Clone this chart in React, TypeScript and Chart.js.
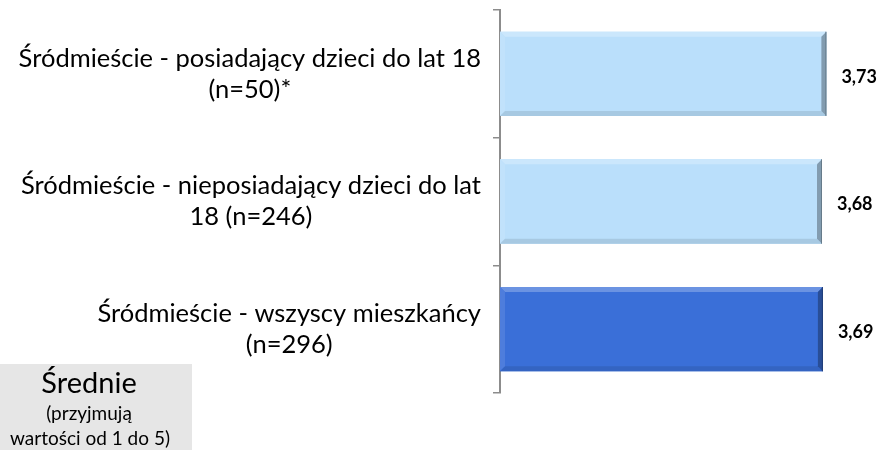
import React, { useEffect, useRef } from "react";
import { Chart, registerables } from "chart.js";

Chart.register(...registerables);

const categories: string[][] = [
  ["Śródmieście - posiadający dzieci do lat 18", "(n=50)*"],
  ["Śródmieście - nieposiadający dzieci do lat", "18 (n=246)"],
  ["Śródmieście - wszyscy mieszkańcy", "(n=296)"],
];
const values: number[] = [3.73, 3.68, 3.69];
const valueLabels: string[] = ["3,73", "3,68", "3,69"];
const barColors: string[] = ["#badffb", "#badffb", "#3a6fd8"];
const noteLines: string[] = ["Średnie", "(przyjmują", "wartości od 1 do 5)"];

const FONT = "Lato, 'Open Sans', sans-serif";

function shade(hex: string, amt: number): string {
  const n = parseInt(hex.slice(1), 16);
  let r = (n >> 16) & 255, g = (n >> 8) & 255, b = n & 255;
  const f = (c: number) => {
    const v = amt >= 0 ? c + (255 - c) * amt : c * (1 + amt);
    return Math.max(0, Math.min(255, Math.round(v)));
  };
  r = f(r); g = f(g); b = f(b);
  return `rgb(${r},${g},${b})`;
}

const decorPlugin = {
  id: "decor",
  beforeDraw(chart: any) {
    const ctx = chart.ctx;
    ctx.save();
    // note box
    ctx.fillStyle = "#e6e6e6";
    ctx.fillRect(0, 364, 192, 86);
    ctx.fillStyle = "#000";
    ctx.textAlign = "center";
    ctx.textBaseline = "alphabetic";
    ctx.font = `29px ${FONT}`;
    ctx.fillText(noteLines[0], 89, 393);
    ctx.font = `19px ${FONT}`;
    ctx.fillText(noteLines[1], 89, 420);
    ctx.fillText(noteLines[2], 90, 445);
    ctx.restore();
  },
  afterDatasetsDraw(chart: any) {
    const ctx = chart.ctx;
    const meta = chart.getDatasetMeta(0);
    const yScale = chart.scales.y;
    ctx.save();
    meta.data.forEach((bar: any, i: number) => {
      const { x, y, base, height } = bar.getProps(["x", "y", "base", "height"], true);
      const top = y - height / 2;
      const bot = y + height / 2;
      const left = base;
      const right = x;
      const bw = 5;
      const col = barColors[i];
      // top highlight
      ctx.fillStyle = shade(col, 0.25);
      ctx.beginPath();
      ctx.moveTo(left, top);
      ctx.lineTo(right, top);
      ctx.lineTo(right - bw, top + bw);
      ctx.lineTo(left + bw, top + bw);
      ctx.closePath();
      ctx.fill();
      // left lighter
      ctx.fillStyle = shade(col, 0.1);
      ctx.beginPath();
      ctx.moveTo(left, top);
      ctx.lineTo(left + bw, top + bw);
      ctx.lineTo(left + bw, bot - bw);
      ctx.lineTo(left, bot);
      ctx.closePath();
      ctx.fill();
      // bottom darker
      ctx.fillStyle = shade(col, -0.1);
      ctx.beginPath();
      ctx.moveTo(left, bot);
      ctx.lineTo(left + bw, bot - bw);
      ctx.lineTo(right - bw, bot - bw);
      ctx.lineTo(right, bot);
      ctx.closePath();
      ctx.fill();
      // right darkest
      ctx.fillStyle = shade(col, -0.3);
      ctx.beginPath();
      ctx.moveTo(right, top);
      ctx.lineTo(right, bot);
      ctx.lineTo(right - bw, bot - bw);
      ctx.lineTo(right - bw, top + bw);
      ctx.closePath();
      ctx.fill();
      ctx.strokeStyle = shade(col, -0.45);
      ctx.lineWidth = 1;
      ctx.beginPath();
      ctx.moveTo(right - 0.5, top);
      ctx.lineTo(right - 0.5, bot);
      ctx.stroke();

      // value label
      ctx.fillStyle = "#000";
      ctx.font = `bold 18px ${FONT}`;
      ctx.textAlign = "left";
      ctx.textBaseline = "middle";
      ctx.fillText(valueLabels[i], right + 15, y + 3);
    });

    // category labels
    ctx.font = `25.5px ${FONT}`;
    ctx.fillStyle = "#000";
    ctx.textAlign = "center";
    ctx.textBaseline = "middle";
    categories.forEach((lines, i) => {
      const cy = yScale.getPixelForTick(i);
      const widest = Math.max(...lines.map((l) => ctx.measureText(l).width));
      const cx = 481 - widest / 2;
      const lh = 31;
      const start = cy - ((lines.length - 1) * lh) / 2;
      lines.forEach((l, j) => ctx.fillText(l, cx, start + j * lh));
    });
    ctx.restore();
  },
};

export default function App() {
  const ref = useRef<HTMLCanvasElement | null>(null);
  useEffect(() => {
    if (!ref.current) return;
    const chart = new Chart(ref.current, {
      type: "bar",
      data: {
        labels: categories,
        datasets: [
          {
            data: values,
            backgroundColor: barColors,
            borderWidth: 0,
            barPercentage: 0.66,
            categoryPercentage: 1,
          },
        ],
      },
      options: {
        indexAxis: "y",
        animation: false,
        responsive: false,
        maintainAspectRatio: false,
        layout: { padding: { left: 493, right: 0, top: 10, bottom: 57 } },
        plugins: { legend: { display: false }, tooltip: { enabled: false } },
        scales: {
          x: { display: false, min: 0, max: 4.4 },
          y: {
            ticks: { display: false },
            grid: {
              drawOnChartArea: false,
              drawTicks: true,
              tickLength: 7,
              color: "#8c8c8c",
              lineWidth: 1.5,
              offset: true,
            },
            border: { display: true, color: "#8c8c8c", width: 2 },
          },
        },
      },
      plugins: [decorPlugin],
    });
    return () => chart.destroy();
  }, []);
  return (
    <div style={{ position: "absolute", left: 0, top: 0, width: 885, height: 450 }}>
      <canvas ref={ref} width={885} height={450} />
    </div>
  );
}
